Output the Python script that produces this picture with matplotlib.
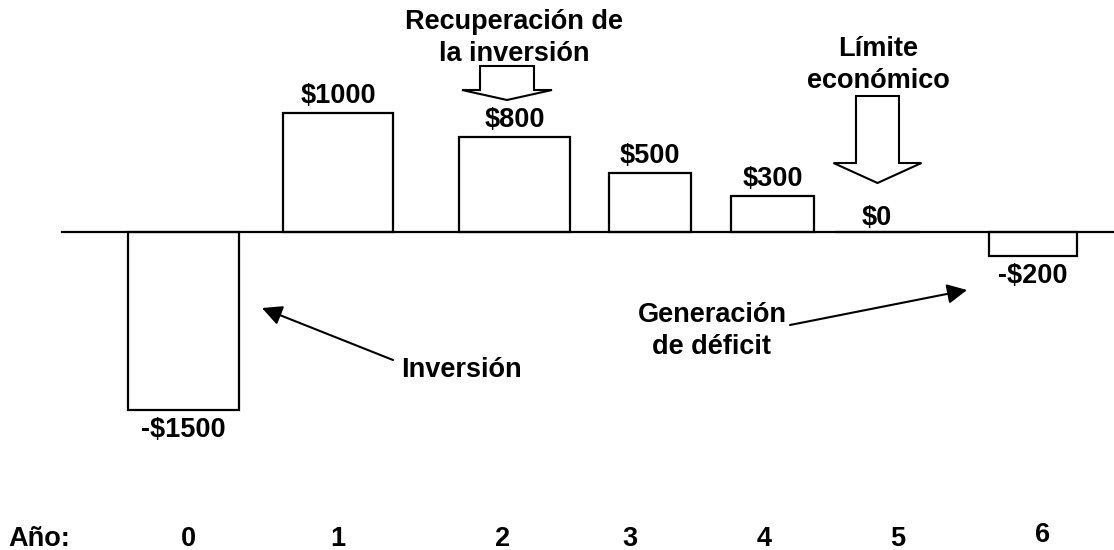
"""Flujo de caja por año: inversión, recuperación y límite económico."""

import matplotlib
matplotlib.use("Agg")
import matplotlib.pyplot as plt
import matplotlib.transforms as mtransforms
from matplotlib.patches import FancyArrow

W, H = 1114, 550

# data
years = ["0", "1", "2", "3", "4", "5", "6"]
cash_flow = [-1500, 1000, 800, 500, 300, 0, -200]
value_labels = ["-$1500", "$1000", "$800", "$500", "$300", "$0", "-$200"]

# layout (image pixel units, the bars are not evenly spaced in the original)
bar_centers = [183.5, 338, 514.5, 650, 772.5, 877, 1033]
bar_widths = [111, 110, 111, 82, 83, 85, 88]
year_label_x = [188, 338, 503, 630, 764, 898, 1043]
year_label_y = [539, 539, 539, 539, 539, 539, 535]

BASELINE_PX = 232
PX_PER_DOLLAR = 0.1186

plt.rcParams["font.family"] = ["Liberation Sans", "DejaVu Sans"]
plt.rcParams["font.weight"] = "bold"
FS = 19.5
LS = 1.3

fig = plt.figure(figsize=(W / 100, H / 100), dpi=100)
ax = fig.add_axes([0, 0, 1, 1])
ax.set_xlim(0, W)
ax.set_ylim(-(H - BASELINE_PX) / PX_PER_DOLLAR, BASELINE_PX / PX_PER_DOLLAR)
ax.axis("off")

# image pixel coords (y down) -> display
px = mtransforms.Affine2D().scale(1 / W, -1 / H).translate(0, 1) + fig.transFigure

ax.plot([62, W], [0, 0], color="black", lw=1.6, zorder=3)
ax.bar(bar_centers, cash_flow, width=bar_widths, facecolor="white",
       edgecolor="black", linewidth=1.6, zorder=2)

for xc, v, lab in zip(bar_centers, cash_flow, value_labels):
    if v > 0:
        ax.annotate(lab, (xc, v), xytext=(0, 3), textcoords="offset points",
                    ha="center", va="bottom", fontsize=FS, fontweight="bold")
    elif v == 0:
        ax.annotate(lab, (xc, v), xytext=(0, 1), textcoords="offset points",
                    ha="center", va="bottom", fontsize=FS, fontweight="bold")
    else:
        ax.annotate(lab, (xc, v), xytext=(0, -5), textcoords="offset points",
                    ha="center", va="top", fontsize=FS, fontweight="bold")

# year axis labels
fig.text(39, 539, "Año:", transform=px, ha="center", va="center", fontsize=FS, fontweight="bold")
for xl, yl, yr in zip(year_label_x, year_label_y, years):
    fig.text(xl, yl, yr, transform=px, ha="center", va="center", fontsize=FS, fontweight="bold")

# callouts
fig.text(514, 38, "Recuperación de\nla inversión", transform=px, ha="center", va="center",
         multialignment="center", fontsize=FS, fontweight="bold", linespacing=LS)
fig.text(878, 65, "Límite\neconómico", transform=px, ha="center", va="center",
         multialignment="center", fontsize=FS, fontweight="bold", linespacing=LS)
fig.text(712, 331, "Generación\nde déficit", transform=px, ha="center", va="center",
         multialignment="center", fontsize=FS, fontweight="bold", linespacing=LS)
fig.text(401, 370, "Inversión", transform=px, ha="left", va="center",
         fontsize=FS, fontweight="bold")

# hollow block arrows
for x0, y0, length, shaft, head_w, head_l in [(507, 66, 34, 54, 90, 10),
                                              (877.5, 96, 87, 43, 88, 20)]:
    ax.add_patch(FancyArrow(x0, y0, 0, length, width=shaft, head_width=head_w,
                            head_length=head_l, length_includes_head=True,
                            transform=px, facecolor="white", edgecolor="black",
                            linewidth=1.5, clip_on=False, zorder=4))

# pointer arrows
arrow_kw = dict(arrowstyle="-|>,head_length=0.6,head_width=0.3", color="black",
                lw=1.5, mutation_scale=20, shrinkA=0, shrinkB=0)
ax.annotate("", xy=(262, 308), xytext=(393, 360), xycoords=px, textcoords=px,
            arrowprops=arrow_kw)
ax.annotate("", xy=(967, 290), xytext=(790, 325), xycoords=px, textcoords=px,
            arrowprops=arrow_kw)

fig.savefig("out.png", dpi=100)
